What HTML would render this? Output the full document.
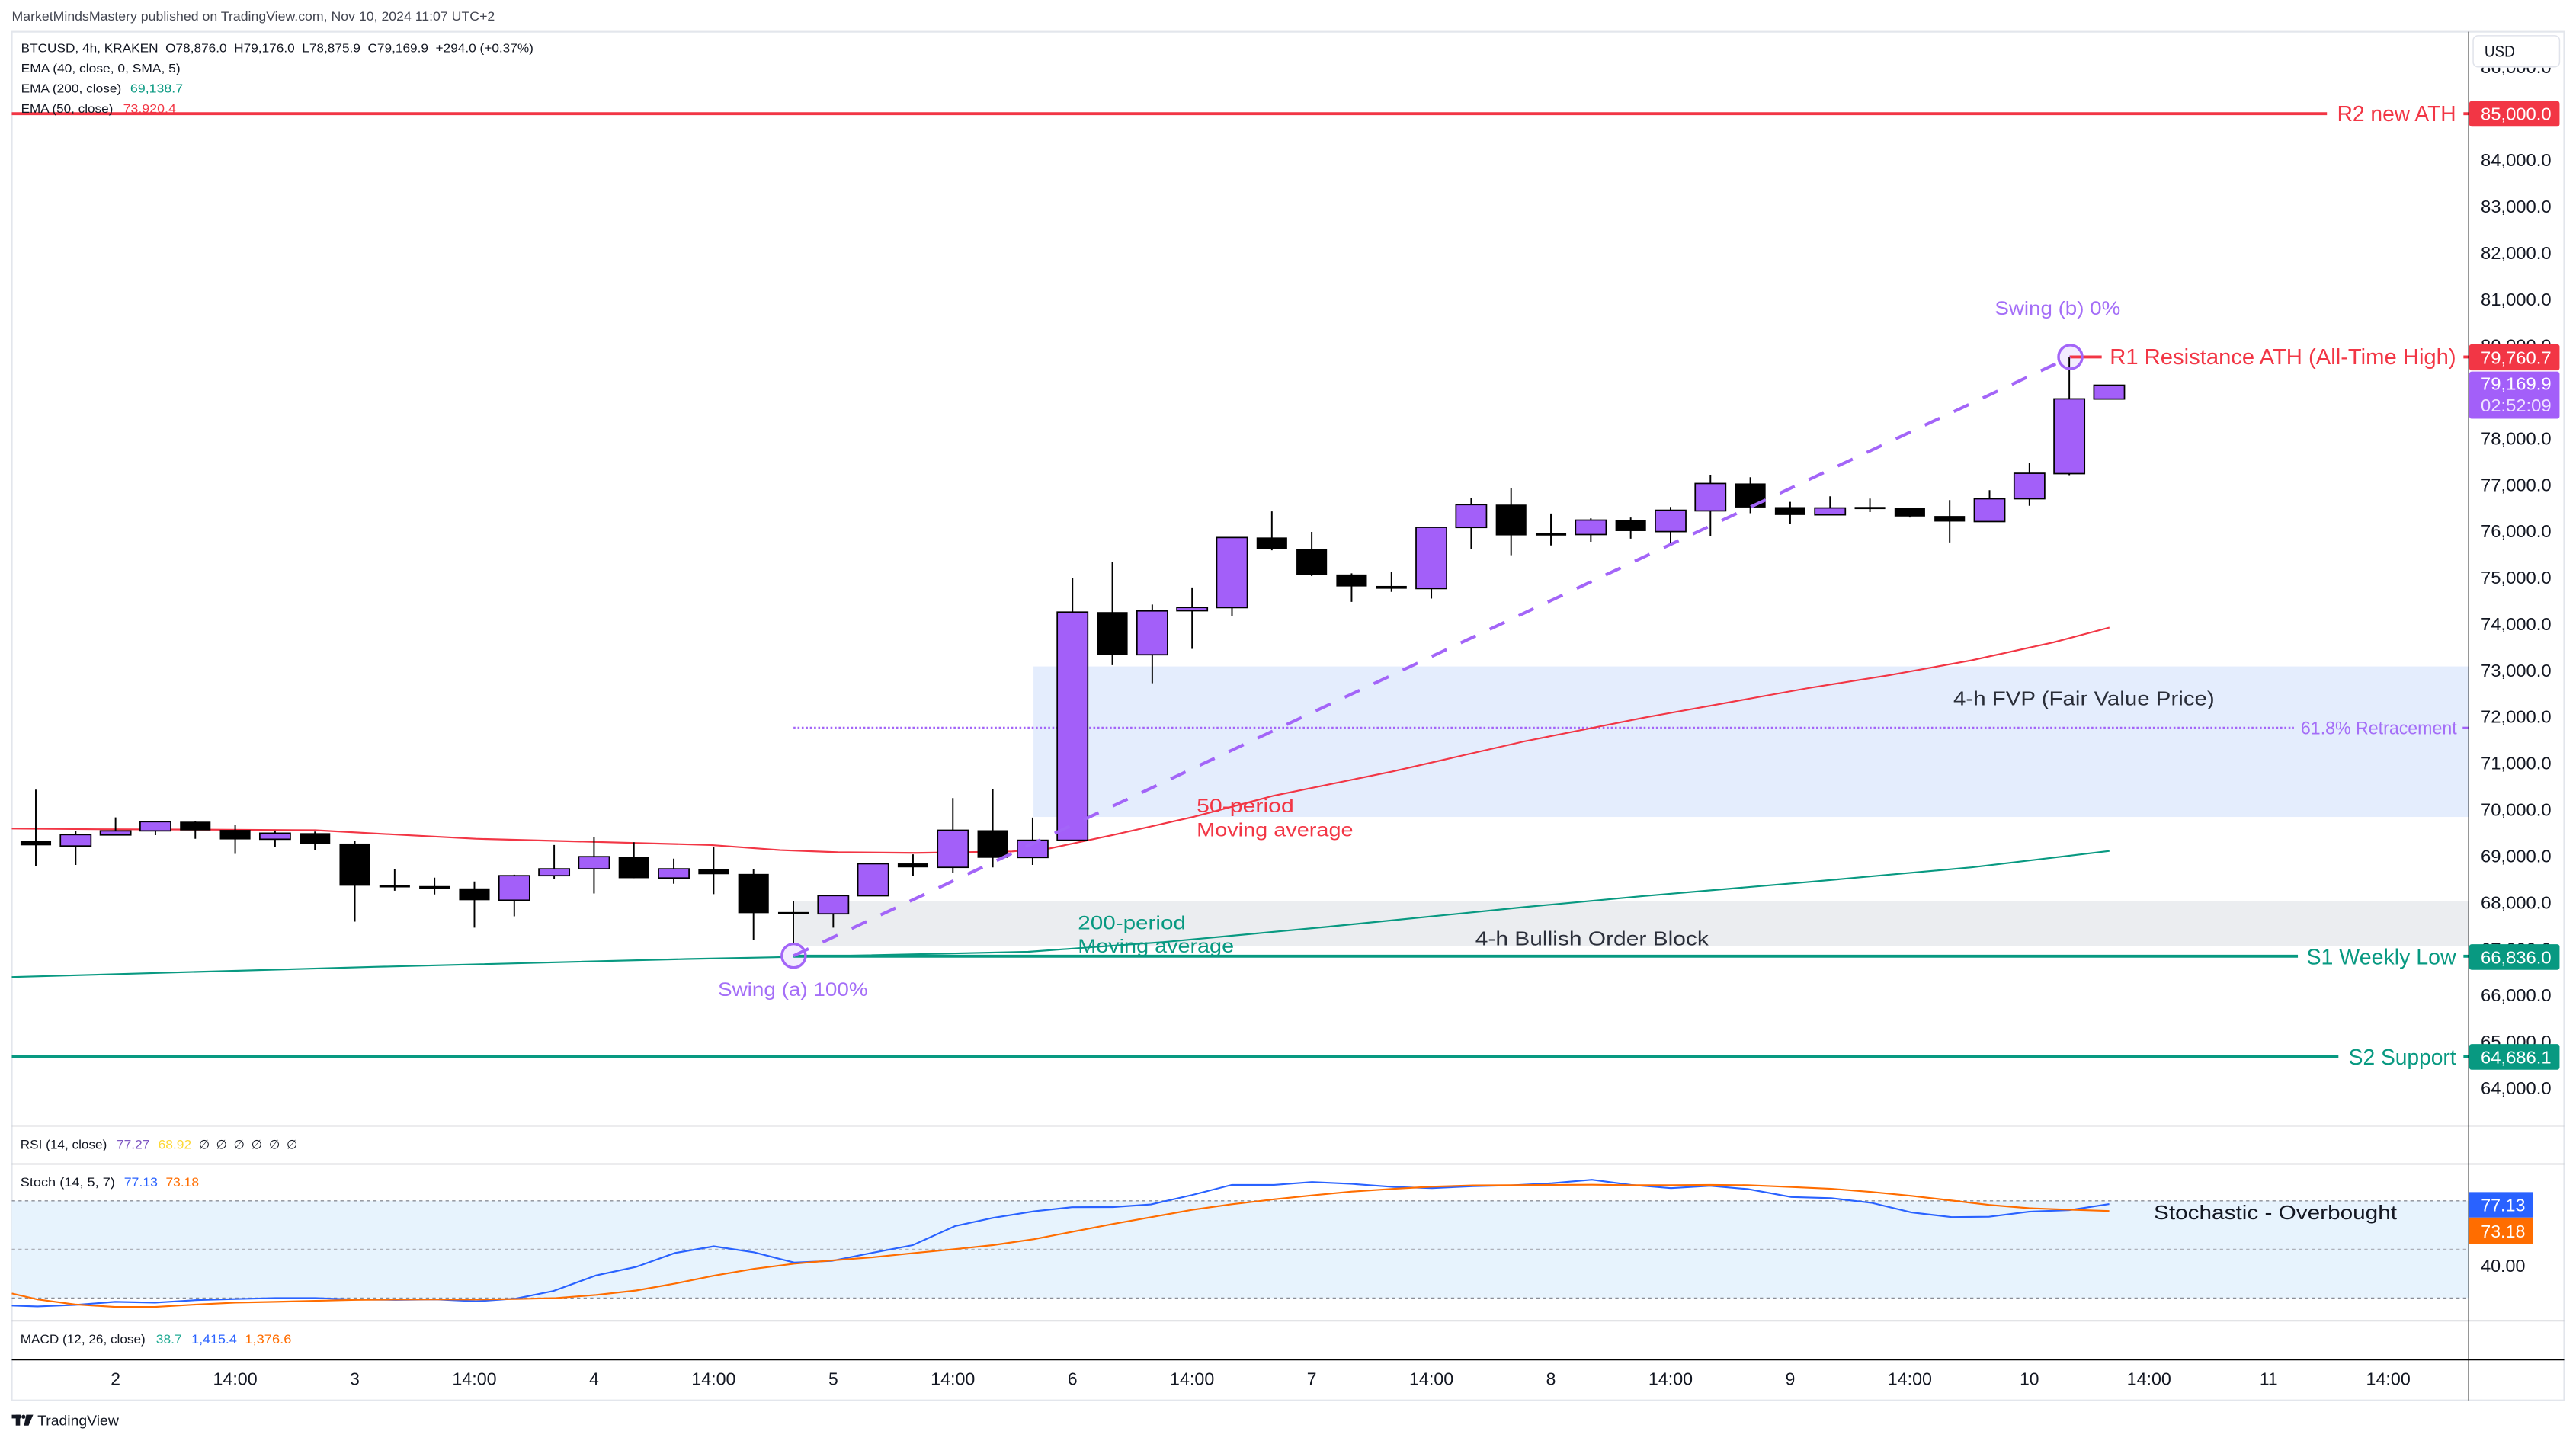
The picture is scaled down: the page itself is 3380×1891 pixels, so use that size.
<!DOCTYPE html>
<html><head><meta charset="utf-8"><style>
html,body{margin:0;padding:0;background:#fff;width:3380px;height:1891px;overflow:hidden}
svg{display:block}
text{font-family:"Liberation Sans",Arial,"DejaVu Sans",sans-serif;white-space:pre}
</style></head><body>
<svg width="3380" height="1891" viewBox="0 0 1568 877.2" xmlns="http://www.w3.org/2000/svg">
<rect x="0" y="0" width="1568" height="877.2" fill="#fff"/>
<!-- header -->
<text x="7.2" y="12.4" font-size="7.6" fill="#434651" textLength="294" lengthAdjust="spacingAndGlyphs">MarketMindsMastery published on TradingView.com, Nov 10, 2024 11:07 UTC+2</text>
<!-- frame -->
<rect x="7.2" y="19.3" width="1553.6" height="833.2" fill="#fff" stroke="#e3e6ec" stroke-width="1"/>

<!-- zones -->
<rect x="629.1" y="405.7" width="873.6" height="91.6" fill="#e4edfd"/>
<rect x="483" y="548.4" width="1019.7" height="27.3" fill="#ebedf0"/>
<!-- stoch band -->
<rect x="7.2" y="731" width="1495.5" height="59.2" fill="#e7f3fd"/>
<g stroke="#8a8d96" stroke-width="0.6" stroke-dasharray="2 2">
<line x1="7.2" y1="731" x2="1502.7" y2="731"/>
<line x1="7.2" y1="760.5" x2="1502.7" y2="760.5" stroke="#aeb1b9"/>
<line x1="7.2" y1="790.2" x2="1502.7" y2="790.2"/>
</g>

<!-- 61.8 dotted -->
<line x1="483" y1="443" x2="1396.3" y2="443" stroke="#a365f8" stroke-width="1.2" stroke-dasharray="1.2 1.3"/>
<line x1="1499" y1="443" x2="1502.7" y2="443" stroke="#a365f8" stroke-width="1.2"/>

<!-- EMAs -->
<polyline fill="none" stroke="#f23645" stroke-width="1" points="7.2,504.4 60,504.8 120,505 192,505.4 240,508 289.5,510.6 357.8,512.4 432.7,514.4 475,517.5 510,518.8 557.5,519.2 616,518.3 638.8,516.5 677.9,508.2 726.7,497.2 775.6,484.3 847.2,469.7 927.9,451.3 1000,437 1050,428 1100,419 1150,411 1200,402 1250,391 1284,382"/>
<polyline fill="none" stroke="#089981" stroke-width="1" points="7.2,594.8 227.7,588.6 417.5,583.8 482.6,582.5 625.8,579.4 710.5,573.3 808,564.2 928,552.2 1000,545.5 1100,537 1200,528 1284,518"/>

<!-- wicks -->
<path fill="none" stroke="#000" stroke-width="0.9" d="M21.8 480.7V527.2M46.07 506V526.5M70.34 497.6V508.3M94.61 500.2V508.4M118.88 499.6V510.6M143.15 502.4V519.8M167.42 505.6V515.7M191.69 506.2V517.5M215.96 511.8V561.1M240.23 529.2V542.2M264.5 534.3V544.5M288.77 536.6V564.7M313.04 532.5V557.8M337.31 514.4V535.1M361.58 509.8V543.9M385.85 512.7V534.6M410.12 522.7V538M434.39 515.8V544.3M458.66 528.9V572.1M482.93 548.7V582.7M507.2 545V564.7M531.47 525.3V545.3M555.74 520.1V533M580.01 485.8V531.5M604.28 480.3V528M628.55 497.7V526.5M652.82 352V511.9M677.09 342V404.9M701.36 368V415.9M725.63 357.6V395M749.9 327V375.3M774.17 311.3V335M798.44 323.8V350.7M822.71 349V366.4M846.98 347.9V360.3M871.25 321V364.4M895.52 302.9V334.3M919.79 297.3V338M944.06 312.6V332M968.33 315.5V329.8M992.6 315V327.9M1016.87 308.6V331.5M1041.14 289V326.4M1065.41 290.5V312.4M1089.68 305.5V318.9M1113.95 302.1V313.4M1138.22 303.5V311.7M1162.49 309V315M1186.76 304.4V330.2M1211.03 298.4V317.5M1235.3 281.6V307.9M1259.57 217.3V289.2"/>
<!-- bearish bodies -->
<g fill="#000">
<rect x="12.5" y="511.8" width="18.6" height="2.8"/>
<rect x="109.58" y="500.2" width="18.6" height="5.3"/>
<rect x="133.85" y="505.2" width="18.6" height="5.8"/>
<rect x="182.39" y="507.2" width="18.6" height="6.6"/>
<rect x="206.66" y="513.5" width="18.6" height="25.7"/>
<rect x="230.93" y="538.8" width="18.6" height="1.4"/>
<rect x="255.2" y="539.4" width="18.6" height="1.7"/>
<rect x="279.47" y="540.8" width="18.6" height="7.2"/>
<rect x="376.55" y="521.5" width="18.6" height="13.1"/>
<rect x="425.09" y="528.9" width="18.6" height="3.3"/>
<rect x="449.36" y="532" width="18.6" height="23.9"/>
<rect x="473.63" y="555.2" width="18.6" height="1.4"/>
<rect x="546.44" y="525.6" width="18.6" height="2.4"/>
<rect x="594.98" y="505.4" width="18.6" height="16.8"/>
<rect x="667.79" y="372.6" width="18.6" height="26.2"/>
<rect x="764.87" y="327.2" width="18.6" height="7.1"/>
<rect x="789.14" y="334" width="18.6" height="16.2"/>
<rect x="813.41" y="349.7" width="18.6" height="7.3"/>
<rect x="837.68" y="356.7" width="18.6" height="1.7"/>
<rect x="910.49" y="307.2" width="18.6" height="18.7"/>
<rect x="934.76" y="324.7" width="18.6" height="1.3"/>
<rect x="983.3" y="316.6" width="18.6" height="6.7"/>
<rect x="1056.11" y="294.3" width="18.6" height="14.6"/>
<rect x="1080.38" y="308.7" width="18.6" height="4.8"/>
<rect x="1128.92" y="308.6" width="18.6" height="1.3"/>
<rect x="1153.19" y="309.2" width="18.6" height="5.2"/>
<rect x="1177.46" y="314.1" width="18.6" height="3.4"/>
</g>
<!-- bullish bodies -->
<g fill="#a35ff9" stroke="#000" stroke-width="0.8">
<rect x="36.77" y="508.1" width="18.6" height="6.9"/>
<rect x="61.04" y="505.8" width="18.6" height="2.5"/>
<rect x="85.31" y="500.2" width="18.6" height="5.6"/>
<rect x="158.12" y="507.2" width="18.6" height="3.7"/>
<rect x="303.74" y="533.1" width="18.6" height="14.9"/>
<rect x="328.01" y="528.9" width="18.6" height="4.2"/>
<rect x="352.28" y="521.5" width="18.6" height="7.4"/>
<rect x="400.82" y="528.9" width="18.6" height="5.6"/>
<rect x="497.9" y="545.2" width="18.6" height="11.1"/>
<rect x="522.17" y="525.8" width="18.6" height="19.5"/>
<rect x="570.71" y="505.4" width="18.6" height="22.6"/>
<rect x="619.25" y="511.5" width="18.6" height="10.5"/>
<rect x="643.52" y="372.6" width="18.6" height="138.9"/>
<rect x="692.06" y="371.9" width="18.6" height="26.7"/>
<rect x="716.33" y="369.8" width="18.6" height="2"/>
<rect x="740.6" y="327.2" width="18.6" height="42.7"/>
<rect x="861.95" y="321" width="18.6" height="37.3"/>
<rect x="886.22" y="307.2" width="18.6" height="13.9"/>
<rect x="959.03" y="316.6" width="18.6" height="8.8"/>
<rect x="1007.57" y="310.6" width="18.6" height="13"/>
<rect x="1031.84" y="294.3" width="18.6" height="16.7"/>
<rect x="1104.65" y="309.2" width="18.6" height="4.2"/>
<rect x="1201.73" y="303.6" width="18.6" height="13.9"/>
<rect x="1226" y="288.1" width="18.6" height="15.5"/>
<rect x="1250.27" y="242.8" width="18.6" height="45.5"/>
<rect x="1274.54" y="234.5" width="18.6" height="8.4"/>
</g>

<!-- swing circles fill -->
<circle cx="483.1" cy="581.8" r="7.2" fill="#f3ecfe"/>
<circle cx="1260.2" cy="217.3" r="7.2" fill="#f3ecfe"/>
<line x1="1259.57" y1="217.3" x2="1259.57" y2="225" stroke="#000" stroke-width="0.9"/>
<!-- horizontal levels -->
<line x1="7.2" y1="69.2" x2="1416.4" y2="69.2" stroke="#f23645" stroke-width="1.8"/>
<line x1="1499.5" y1="69.2" x2="1502.7" y2="69.2" stroke="#f23645" stroke-width="1.8"/>
<line x1="1259.8" y1="217.3" x2="1279.3" y2="217.3" stroke="#f23645" stroke-width="1.8"/>
<line x1="1499.5" y1="217.3" x2="1502.7" y2="217.3" stroke="#f23645" stroke-width="1.8"/>
<line x1="483" y1="582.1" x2="1398.7" y2="582.1" stroke="#089981" stroke-width="1.8"/>
<line x1="1499.5" y1="582.1" x2="1502.7" y2="582.1" stroke="#089981" stroke-width="1.8"/>
<line x1="7.2" y1="643.1" x2="1423.4" y2="643.1" stroke="#089981" stroke-width="1.8"/>
<line x1="1499.5" y1="643.1" x2="1502.7" y2="643.1" stroke="#089981" stroke-width="1.8"/>
<!-- trend dashed -->
<line x1="483.1" y1="581.8" x2="1260.2" y2="217.3" stroke="#a365f8" stroke-width="1.9" stroke-dasharray="10 9.5"/>
<circle cx="483.1" cy="581.8" r="7.2" fill="none" stroke="#a365f8" stroke-width="1.6"/>
<circle cx="1260.2" cy="217.3" r="7.2" fill="none" stroke="#a365f8" stroke-width="1.6"/>

<!-- annotation texts -->
<text x="1422.6" y="73.8" font-size="13.5" fill="#f23645" textLength="72.4" lengthAdjust="spacingAndGlyphs">R2 new ATH</text>
<text x="1284.2" y="221.8" font-size="13.5" fill="#f23645" textLength="210.8" lengthAdjust="spacingAndGlyphs">R1 Resistance ATH (All-Time High)</text>
<text x="1404" y="587" font-size="13.5" fill="#089981" textLength="91" lengthAdjust="spacingAndGlyphs">S1 Weekly Low</text>
<text x="1429.6" y="648" font-size="13.5" fill="#089981" textLength="65.4" lengthAdjust="spacingAndGlyphs">S2 Support</text>
<text x="1400.5" y="447" font-size="11" fill="#a46ef7" textLength="95" lengthAdjust="spacingAndGlyphs">61.8% Retracement</text>
<text x="1214.2" y="191.6" font-size="11.5" fill="#a46ef7" textLength="76.5" lengthAdjust="spacingAndGlyphs">Swing (b) 0%</text>
<text x="437" y="606.4" font-size="11.5" fill="#a46ef7" textLength="91.2" lengthAdjust="spacingAndGlyphs">Swing (a) 100%</text>
<text x="728.4" y="494.5" font-size="11.5" fill="#f23645" textLength="59.2" lengthAdjust="spacingAndGlyphs">50-period</text>
<text x="728.4" y="509" font-size="11.5" fill="#f23645" textLength="95.3" lengthAdjust="spacingAndGlyphs">Moving average</text>
<text x="656.1" y="565.6" font-size="11.5" fill="#089981" textLength="65.7" lengthAdjust="spacingAndGlyphs">200-period</text>
<text x="656.1" y="579.8" font-size="11.5" fill="#089981" textLength="95" lengthAdjust="spacingAndGlyphs">Moving average</text>
<text x="1189" y="429.4" font-size="12.2" fill="#2a2e39" textLength="159" lengthAdjust="spacingAndGlyphs">4-h FVP (Fair Value Price)</text>
<text x="898" y="575.4" font-size="12.2" fill="#2a2e39" textLength="142" lengthAdjust="spacingAndGlyphs">4-h Bullish Order Block</text>

<!-- legend -->
<text x="12.8" y="31.7" font-size="7.4" fill="#131722" textLength="311.9" lengthAdjust="spacingAndGlyphs">BTCUSD, 4h, KRAKEN  O78,876.0  H79,176.0  L78,875.9  C79,169.9  +294.0 (+0.37%)</text>
<text x="12.8" y="44" font-size="7.4" fill="#131722" textLength="97" lengthAdjust="spacingAndGlyphs">EMA (40, close, 0, SMA, 5)</text>
<text x="12.8" y="56.4" font-size="7.4" fill="#131722" textLength="61.1" lengthAdjust="spacingAndGlyphs">EMA (200, close)</text>
<text x="79.3" y="56.4" font-size="7.4" fill="#089981" textLength="32.1" lengthAdjust="spacingAndGlyphs">69,138.7</text>
<text x="12.8" y="68.6" font-size="7.4" fill="#131722" textLength="56" lengthAdjust="spacingAndGlyphs">EMA (50, close)</text>
<text x="75" y="68.6" font-size="7.4" fill="#f23645" textLength="32.1" lengthAdjust="spacingAndGlyphs">73,920.4</text>

<!-- pane separators -->
<g stroke="#b2b5be" stroke-width="0.7">
<line x1="7.2" y1="685.4" x2="1560.8" y2="685.4"/>
<line x1="7.2" y1="708.6" x2="1560.8" y2="708.6"/>
<line x1="7.2" y1="804.1" x2="1560.8" y2="804.1"/>
</g>
<line x1="7.2" y1="827.8" x2="1560.8" y2="827.8" stroke="#000" stroke-width="0.7"/>
<line x1="1502.7" y1="19.3" x2="1502.7" y2="852.5" stroke="#000" stroke-width="0.6"/>

<!-- stoch lines -->
<polyline fill="none" stroke="#2962ff" stroke-width="1" points="7.2,794.8 22.8,795.3 45.6,794.4 70,792.5 94.4,793 120.4,791.4 143.2,790.8 167.6,790.2 192,790.2 216.5,791.1 240.9,791.3 265.3,791 289.7,792.2 314.1,790.5 336.9,785.9 362.9,776.4 387.3,771.2 410.8,762.8 434.5,758.7 459,762.4 483.4,768.6 506.3,767.6 531.3,762.6 555.6,758 581.3,746.4 604.4,741.4 629.4,737.4 652.5,734.9 677.5,734.8 700.6,733.2 725.5,727.5 749.8,721.3 775.5,721.3 798.6,719.6 822.9,720.7 848.6,722.6 871.7,723.3 896.7,722.1 919.8,721.6 944.8,720.3 969,718.2 992.8,721.3 1017.1,723.3 1040.9,721.9 1064,723.9 1090.3,728.7 1114.7,729.4 1139.1,732.2 1163.5,738.1 1187.9,740.9 1210.7,740.7 1235.1,737.6 1259.5,736.7 1283.9,733"/>
<polyline fill="none" stroke="#ff6d00" stroke-width="1" points="7.2,787.4 22.8,791 45.6,794.1 70,795.6 94.4,795.6 120.4,794.1 143.2,793 167.6,792.5 192,791.9 216.5,791.3 240.9,791.1 265.3,791 289.7,791.1 314.1,790.8 338.5,790.2 362.9,788.3 387.3,785.6 410.8,781.4 434.5,776.6 459,772.4 483.4,769.3 506.3,767.3 531.3,765.4 555.6,762.9 581.3,760.4 604.4,758 629.4,754.4 652.5,749.9 677.5,745.1 700.6,741 725.5,736.5 749.8,733.1 775.5,730.1 798.6,727.7 822.9,725.4 848.6,723.7 871.7,722.4 896.7,721.6 919.8,721.5 944.8,721.3 969,721.2 992.8,721.5 1017.1,721.5 1040.9,721.3 1064,721.5 1090.3,722.6 1114.7,723.7 1139.1,725.6 1163.5,728 1187.9,730.8 1210.7,733.5 1235.1,735.5 1259.5,736.4 1283.9,737.2"/>
<text x="1311" y="742.2" font-size="12.2" fill="#131722" textLength="148" lengthAdjust="spacingAndGlyphs">Stochastic - Overbought</text>

<!-- lower legends -->
<text x="12.4" y="699.4" font-size="7.6" fill="#131722" textLength="52.7" lengthAdjust="spacingAndGlyphs">RSI (14, close)</text>
<text x="71" y="699.4" font-size="7.6" fill="#7e57c2" textLength="20.1" lengthAdjust="spacingAndGlyphs">77.27</text>
<text x="96.3" y="699.4" font-size="7.6" fill="#fdd835" textLength="20.2" lengthAdjust="spacingAndGlyphs">68.92</text>
<g font-size="7.6" fill="#131722" text-anchor="middle">
<text x="124.3" y="699.4">∅</text><text x="134.8" y="699.4">∅</text><text x="145.5" y="699.4">∅</text><text x="156.2" y="699.4">∅</text><text x="167" y="699.4">∅</text><text x="177.7" y="699.4">∅</text>
</g>
<text x="12.4" y="722.2" font-size="7.6" fill="#131722" textLength="57.6" lengthAdjust="spacingAndGlyphs">Stoch (14, 5, 7)</text>
<text x="75.5" y="722.2" font-size="7.6" fill="#2962ff" textLength="20.5" lengthAdjust="spacingAndGlyphs">77.13</text>
<text x="100.9" y="722.2" font-size="7.6" fill="#ff6d00" textLength="20.2" lengthAdjust="spacingAndGlyphs">73.18</text>
<text x="12.4" y="817.8" font-size="7.6" fill="#131722" textLength="76.1" lengthAdjust="spacingAndGlyphs">MACD (12, 26, close)</text>
<text x="95" y="817.8" font-size="7.6" fill="#22ab94" textLength="15.7" lengthAdjust="spacingAndGlyphs">38.7</text>
<text x="116.5" y="817.8" font-size="7.6" fill="#2962ff" textLength="27.7" lengthAdjust="spacingAndGlyphs">1,415.4</text>
<text x="149.1" y="817.8" font-size="7.6" fill="#ff6d00" textLength="28.3" lengthAdjust="spacingAndGlyphs">1,376.6</text>

<!-- price axis labels -->
<g font-size="10.8" fill="#131722">
<text x="1510" y="44.6" textLength="43" lengthAdjust="spacingAndGlyphs">86,000.0</text>
<text x="1510" y="101.1" textLength="43" lengthAdjust="spacingAndGlyphs">84,000.0</text>
<text x="1510" y="129.4" textLength="43" lengthAdjust="spacingAndGlyphs">83,000.0</text>
<text x="1510" y="157.6" textLength="43" lengthAdjust="spacingAndGlyphs">82,000.0</text>
<text x="1510" y="185.9" textLength="43" lengthAdjust="spacingAndGlyphs">81,000.0</text>
<text x="1510" y="214.1" textLength="43" lengthAdjust="spacingAndGlyphs">80,000.0</text>
<text x="1510" y="270.6" textLength="43" lengthAdjust="spacingAndGlyphs">78,000.0</text>
<text x="1510" y="298.9" textLength="43" lengthAdjust="spacingAndGlyphs">77,000.0</text>
<text x="1510" y="327.1" textLength="43" lengthAdjust="spacingAndGlyphs">76,000.0</text>
<text x="1510" y="355.4" textLength="43" lengthAdjust="spacingAndGlyphs">75,000.0</text>
<text x="1510" y="383.6" textLength="43" lengthAdjust="spacingAndGlyphs">74,000.0</text>
<text x="1510" y="411.9" textLength="43" lengthAdjust="spacingAndGlyphs">73,000.0</text>
<text x="1510" y="440.1" textLength="43" lengthAdjust="spacingAndGlyphs">72,000.0</text>
<text x="1510" y="468.4" textLength="43" lengthAdjust="spacingAndGlyphs">71,000.0</text>
<text x="1510" y="496.6" textLength="43" lengthAdjust="spacingAndGlyphs">70,000.0</text>
<text x="1510" y="524.9" textLength="43" lengthAdjust="spacingAndGlyphs">69,000.0</text>
<text x="1510" y="553.1" textLength="43" lengthAdjust="spacingAndGlyphs">68,000.0</text>
<text x="1510" y="581.4" textLength="43" lengthAdjust="spacingAndGlyphs">67,000.0</text>
<text x="1510" y="609.6" textLength="43" lengthAdjust="spacingAndGlyphs">66,000.0</text>
<text x="1510" y="637.9" textLength="43" lengthAdjust="spacingAndGlyphs">65,000.0</text>
<text x="1510" y="666.1" textLength="43" lengthAdjust="spacingAndGlyphs">64,000.0</text>
<text x="1510.1" y="774.3" textLength="27" lengthAdjust="spacingAndGlyphs">40.00</text>
</g>
<!-- USD box -->
<rect x="1503.4" y="20" width="56.6" height="21.2" fill="#fff"/>
<rect x="1505.4" y="21.7" width="52.6" height="19" rx="3" fill="#fff" stroke="#e0e3eb" stroke-width="0.7"/>
<text x="1512.3" y="34.6" font-size="10" fill="#131722" textLength="18.5" lengthAdjust="spacingAndGlyphs">USD</text>
<!-- axis value boxes -->
<rect x="1503" y="61.5" width="55" height="15.6" rx="1.5" fill="#f23645"/>
<rect x="1503" y="209.6" width="55" height="15.9" rx="1.5" fill="#f23645"/>
<rect x="1503" y="226.2" width="55" height="28.7" rx="1.5" fill="#a35ff9"/>
<rect x="1503" y="574.8" width="55" height="15.6" rx="1.5" fill="#089981"/>
<rect x="1503" y="635.6" width="55" height="15.6" rx="1.5" fill="#089981"/>
<rect x="1502.7" y="725.7" width="39" height="15.5" fill="#2962ff"/>
<rect x="1502.7" y="741.2" width="39" height="16.2" fill="#ff6d00"/>
<g font-size="10.8" fill="#fff">
<text x="1510" y="73.1" textLength="43" lengthAdjust="spacingAndGlyphs">85,000.0</text>
<text x="1510" y="221.4" textLength="43" lengthAdjust="spacingAndGlyphs">79,760.7</text>
<text x="1510" y="237.3" textLength="43" lengthAdjust="spacingAndGlyphs">79,169.9</text>
<text x="1510" y="250.4" textLength="43" lengthAdjust="spacingAndGlyphs" fill="#efe2ff">02:52:09</text>
<text x="1510" y="586.5" textLength="43" lengthAdjust="spacingAndGlyphs">66,836.0</text>
<text x="1510" y="647.3" textLength="43" lengthAdjust="spacingAndGlyphs">64,686.1</text>
<text x="1510.1" y="737.4" textLength="27" lengthAdjust="spacingAndGlyphs">77.13</text>
<text x="1510.1" y="753.4" textLength="27" lengthAdjust="spacingAndGlyphs">73.18</text>
</g>

<!-- time axis -->
<g font-size="10.6" fill="#131722" text-anchor="middle">
<text x="70.34" y="843.2">2</text>
<text x="143.15" y="843.2" textLength="27" lengthAdjust="spacingAndGlyphs">14:00</text>
<text x="215.96" y="843.2">3</text>
<text x="288.77" y="843.2" textLength="27" lengthAdjust="spacingAndGlyphs">14:00</text>
<text x="361.58" y="843.2">4</text>
<text x="434.39" y="843.2" textLength="27" lengthAdjust="spacingAndGlyphs">14:00</text>
<text x="507.2" y="843.2">5</text>
<text x="580.01" y="843.2" textLength="27" lengthAdjust="spacingAndGlyphs">14:00</text>
<text x="652.82" y="843.2">6</text>
<text x="725.63" y="843.2" textLength="27" lengthAdjust="spacingAndGlyphs">14:00</text>
<text x="798.44" y="843.2">7</text>
<text x="871.25" y="843.2" textLength="27" lengthAdjust="spacingAndGlyphs">14:00</text>
<text x="944.06" y="843.2">8</text>
<text x="1016.87" y="843.2" textLength="27" lengthAdjust="spacingAndGlyphs">14:00</text>
<text x="1089.68" y="843.2">9</text>
<text x="1162.49" y="843.2" textLength="27" lengthAdjust="spacingAndGlyphs">14:00</text>
<text x="1235.3" y="843.2">10</text>
<text x="1308.11" y="843.2" textLength="27" lengthAdjust="spacingAndGlyphs">14:00</text>
<text x="1380.92" y="843.2">11</text>
<text x="1453.73" y="843.2" textLength="27" lengthAdjust="spacingAndGlyphs">14:00</text>
</g>

<!-- TradingView logo -->
<g fill="#131722">
<rect x="7.2" y="861.3" width="5.6" height="2.2"/>
<rect x="9.6" y="861.3" width="2.6" height="6.5"/>
<circle cx="14.3" cy="862.5" r="1.2"/>
<polygon points="16,861.3 20.2,861.3 17.4,867.8 14.6,867.8"/>
</g>
<text x="22.8" y="867.8" font-size="8.6" fill="#131722" textLength="49.5" lengthAdjust="spacingAndGlyphs">TradingView</text>
</svg>
</body></html>
